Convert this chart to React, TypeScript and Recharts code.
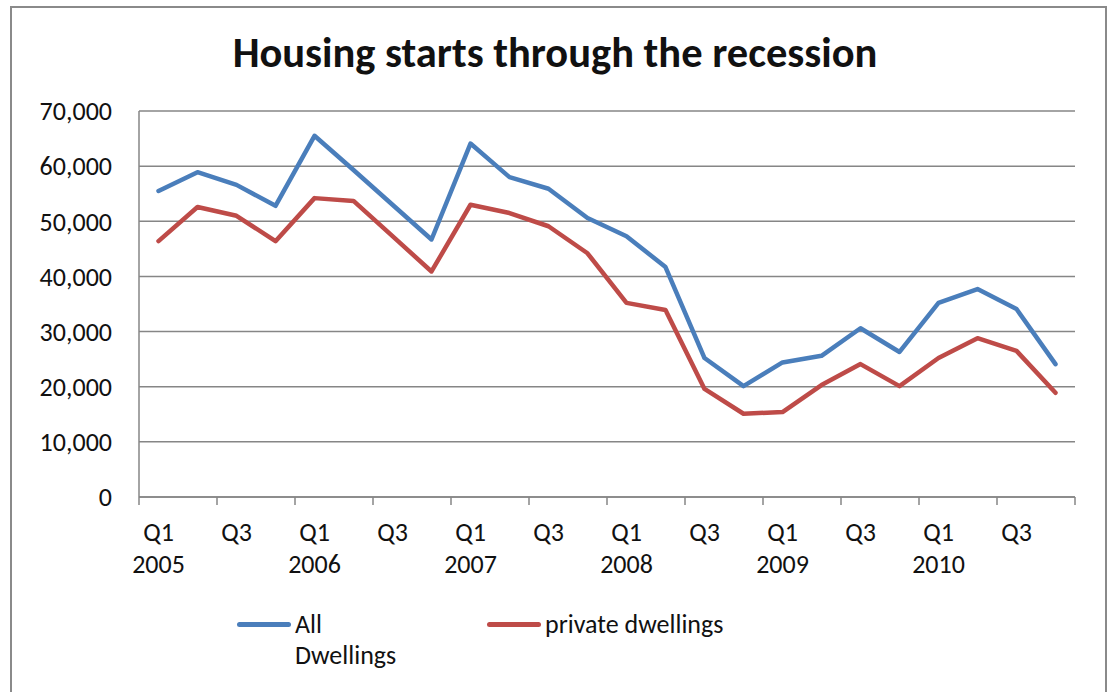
import React from "react";
import { LineChart, Line, XAxis, YAxis, CartesianGrid } from "recharts";

// ── Data ────────────────────────────────────────────────────────────────────
const QUARTERS = ["Q1", "Q2", "Q3", "Q4"];
const YEARS = ["2005", "2006", "2007", "2008", "2009", "2010"];
const PERIODS = YEARS.flatMap((y) => QUARTERS.map((q) => `${q} ${y}`));

const ALL_DWELLINGS = [
  55500, 58900, 56600, 52800,
  65500, 59300, 53000, 46700,
  64100, 58000, 55900, 50600,
  47300, 41700, 25200, 20100,
  24400, 25600, 30600, 26300,
  35200, 37700, 34100, 24100,
];
const PRIVATE_DWELLINGS = [
  46400, 52600, 51000, 46400,
  54200, 53700, 47300, 40900,
  53000, 51500, 49100, 44200,
  35200, 33900, 19600, 15100,
  15400, 20300, 24100, 20100,
  25200, 28800, 26500, 18900,
];
const Y_TICKS = [0, 10000, 20000, 30000, 40000, 50000, 60000, 70000];

const data = PERIODS.map((p, i) => ({
  period: p,
  all: ALL_DWELLINGS[i],
  priv: PRIVATE_DWELLINGS[i],
}));

// ── Style ───────────────────────────────────────────────────────────────────
const COLOR_ALL = "#4a7ebb";
const COLOR_PRIV = "#be4b48";
const COLOR_GRID = "#868686";
const FONT = "Carlito, Calibri, 'Open Sans', sans-serif";
const LABEL_SIZE = 26;

const W = 1110;
const H = 692;
const PLOT_LEFT = 139;
const PLOT_RIGHT = 1075;
const PLOT_TOP = 111;
const PLOT_BOTTOM = 497;
const BAND = (PLOT_RIGHT - PLOT_LEFT) / PERIODS.length;

function PeriodTick(props: any) {
  const { x, y, payload } = props;
  const [q, yr] = String(payload.value).split(" ");
  const left = x - BAND / 2;
  const isLast = payload.index === PERIODS.length - 2;
  return (
    <g>
      <line x1={left} x2={left} y1={y} y2={y + 8} stroke={COLOR_GRID} strokeWidth={1.5} />
      {isLast && (
        <line x1={left + BAND * 2} x2={left + BAND * 2} y1={y} y2={y + 8} stroke={COLOR_GRID} strokeWidth={1.5} />
      )}
      <text x={x} y={y + 44} textAnchor="middle" fontSize={LABEL_SIZE} fill="#111" fontFamily={FONT}>
        {q}
      </text>
      {q === "Q1" && (
        <text x={x} y={y + 76} textAnchor="middle" fontSize={LABEL_SIZE} fill="#111" fontFamily={FONT}>
          {yr}
        </text>
      )}
    </g>
  );
}

function LegendItem({ color, label, width }: { color: string; label: React.ReactNode; width: number }) {
  return (
    <div style={{ display: "flex", alignItems: "flex-start", width }}>
      <div
        style={{
          width: 54,
          height: 5,
          borderRadius: 3,
          background: color,
          marginTop: 13,
          marginRight: 4,
          flexShrink: 0,
        }}
      />
      <div style={{ fontSize: LABEL_SIZE, lineHeight: "31px", color: "#111" }}>{label}</div>
    </div>
  );
}

export default function App() {
  return (
    <div
      style={{
        position: "fixed",
        left: 0,
        top: 0,
        width: W,
        height: H,
        background: "#fff",
        overflow: "hidden",
        fontFamily: FONT,
      }}
    >
      <div
        style={{
          position: "absolute",
          left: 10,
          top: 6,
          width: 1093,
          height: 720,
          border: "2px solid #8a8a8a",
        }}
      />
      <div
        style={{
          position: "absolute",
          left: 0,
          top: 27,
          width: W,
          textAlign: "center",
          fontSize: 42.5,
          fontWeight: "bold",
          color: "#111",
        }}
      >
        Housing starts through the recession
      </div>
      <div style={{ position: "absolute", left: 0, top: 0 }}>
        <LineChart
          width={W}
          height={H}
          data={data}
          margin={{ top: PLOT_TOP, right: W - PLOT_RIGHT, left: 0, bottom: 0 }}
        >
          <CartesianGrid horizontal vertical={false} stroke={COLOR_GRID} strokeWidth={1.5} />
          <XAxis
            dataKey="period"
            interval={1}
            height={H - PLOT_BOTTOM}
            padding={{ left: BAND / 2, right: BAND / 2 }}
            tickSize={0}
            tickMargin={0}
            tickLine={false}
            axisLine={{ stroke: COLOR_GRID, strokeWidth: 1.5 }}
            tick={<PeriodTick />}
          />
          <YAxis
            width={PLOT_LEFT}
            domain={[0, 70000]}
            ticks={Y_TICKS}
            tickSize={0}
            tickMargin={27}
            tickLine={false}
            axisLine={{ stroke: COLOR_GRID, strokeWidth: 1.5 }}
            tick={{ fontSize: LABEL_SIZE, fill: "#111", fontFamily: FONT }}
            tickFormatter={(v: number) => v.toLocaleString("en-US")}
          />
          <Line
            dataKey="all"
            name="All Dwellings"
            stroke={COLOR_ALL}
            strokeWidth={4.5}
            strokeLinecap="round"
            strokeLinejoin="round"
            dot={false}
            isAnimationActive={false}
          />
          <Line
            dataKey="priv"
            name="private dwellings"
            stroke={COLOR_PRIV}
            strokeWidth={4.5}
            strokeLinecap="round"
            strokeLinejoin="round"
            dot={false}
            isAnimationActive={false}
          />
        </LineChart>
      </div>
      <div style={{ position: "absolute", left: 237, top: 609, display: "flex" }}>
        <LegendItem color={COLOR_ALL} label={<>All<br />Dwellings</>} width={250} />
        <LegendItem color={COLOR_PRIV} label="private dwellings" width={260} />
      </div>
    </div>
  );
}
